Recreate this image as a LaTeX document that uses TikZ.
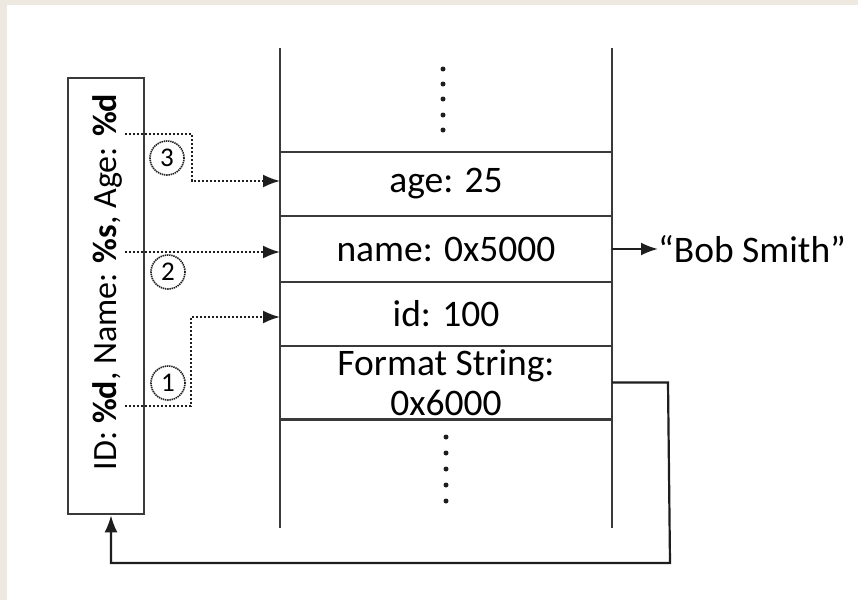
\documentclass[tikz,border=0pt]{standalone}
\usepackage{fontspec}
\setmainfont{Carlito}
\usetikzlibrary{arrows.meta,calc}
\definecolor{frame}{HTML}{EDE9E1}
\definecolor{ink}{HTML}{1E1E1E}
\definecolor{wallink}{HTML}{3A3A3A}
\begin{document}
\begin{tikzpicture}[x=1pt,y=-1pt,
  rough/.style={draw=wallink, line width=2.6pt},
  cell/.style={minimum width=332pt, inner sep=0pt, align=center,
    font=\fontsize{37.5}{40}\selectfont},
  dotline/.style={draw=ink, line width=2pt, dash pattern=on 2.4pt off 1.6pt,
    -{Latex[length=17pt,width=13pt]}},
  solidline/.style={draw=ink, line width=2.2pt, -{Latex[length=17pt,width=13pt]}},
  numcirc/.style={circle, draw=ink, line width=1.6pt, dash pattern=on 1.4pt off 0.8pt,
    minimum size=34pt, inner sep=0pt, font=\fontsize{27}{27}\selectfont},
  stackdot/.style={fill=ink}
]
\useasboundingbox (0,0) rectangle (858,600);
\fill[frame] (0,0) rectangle (858,600);
\fill[white] (7,5) rectangle (858,600);

% stack cells
\node[cell, minimum height=64pt] (age) at (446,184) {age: 25};
\node[cell, minimum height=66pt] (name) at (446,249) {name: 0x5000};
\node[cell, minimum height=64pt] (id) at (446,314) {id: 100};
\node[cell, minimum height=73pt] (fmtcell) at (446,382.5) {Format String:\\0x6000};

% stack walls
\coordinate (wl1) at (280,48);
\coordinate (wl2) at (280,528);
\coordinate (wr1) at (612,48);
\coordinate (wr2) at (612,528);
\draw[rough] (wl1) -- (wl2);
\draw[rough] (wr1) -- (wr2);

% dividers
\draw[rough] (age.north west) -- (age.north east);
\draw[rough] (name.north west) -- (name.north east);
\draw[rough] (id.north west) -- (id.north east);
\draw[rough] (fmtcell.north west) -- (fmtcell.north east);
\draw[rough] (fmtcell.south west) -- (fmtcell.south east);

% dots
\foreach \yy in {69,84,99,115,130} \fill[stackdot] (443,\yy) circle (2.5pt);
\foreach \yy in {437,453,469,485,501} \fill[stackdot] (446,\yy) circle (2.5pt);

% format string box
\node[rough, minimum width=76pt, minimum height=436pt, inner sep=0pt] (fmt) at (106,296) {};
\node[rotate=90, font=\fontsize{34}{34}\selectfont, inner sep=0pt] (fmttext) at (107,282)
  {ID: \textbf{\%d}, Name: \textbf{\%s}, Age: \textbf{\%d}};

% numbered pointers
\coordinate (s3) at (125,134);
\coordinate (s2) at (125,252);
\coordinate (s1) at (125,406);
\coordinate (t3) at (280,181);
\coordinate (t2) at (280,252);
\coordinate (t1) at (280,317);
\draw[dotline] (s3) -- (192,134) -- (192,181) -- (t3);
\draw[dotline] (s2) -- (t2);
\draw[dotline] (s1) -- (191,406) -- (191,317) -- (t1);

\node[numcirc] (n3) at (167,158) {3};
\node[numcirc] (n2) at (168,272) {2};
\node[numcirc] (n1) at (168,383) {1};

% Bob Smith
\node[anchor=west, font=\fontsize{37.5}{38}\selectfont, inner sep=0pt] (bob) at (658,249) {“Bob Smith”};
\draw[solidline] (name.east) -- (bob.west);

% format string pointer back to the box
\coordinate (r1) at (668,382.5);
\coordinate (r2) at (670,563);
\coordinate (r3) at (111,563);
\draw[solidline] (fmtcell.east) -- (r1) -- (r2) -- (r3) -- (fmt.south -| r3);
\end{tikzpicture}
\end{document}
